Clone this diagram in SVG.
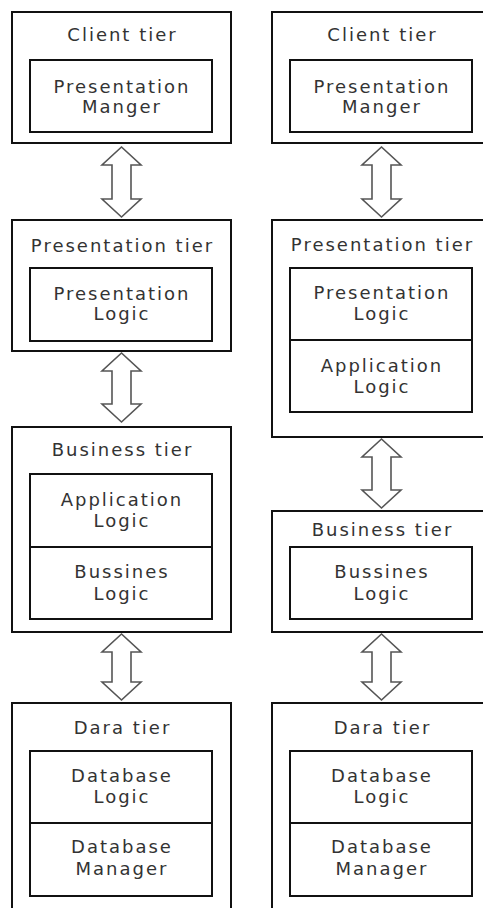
<svg xmlns="http://www.w3.org/2000/svg" width="483" height="908" viewBox="0 0 483 908">
  <style>
    .tier { fill: #fff; stroke: #111; stroke-width: 2; }
    .cell { fill: none; stroke: #111; stroke-width: 2; }
    .div { stroke: #111; stroke-width: 2; }
    .lbl { font-family: "DejaVu Sans", Verdana, sans-serif; font-size: 18px; letter-spacing: 2px; fill: #333; text-anchor: middle; }
    .arrow { fill: #fff; stroke: #555; stroke-width: 1.6; stroke-linejoin: miter; }
  </style>
  <rect width="483" height="908" fill="#fff"/>

  <!-- Left stack: four tiers -->
  <g id="left-client">
    <rect class="tier" x="12" y="12" width="219" height="131"/>
    <text class="lbl" x="122.5" y="41">Client tier</text>
    <rect class="cell" x="30" y="60" width="182" height="72"/>
    <text class="lbl" x="122" y="93">Presentation</text>
    <text class="lbl" x="122" y="113">Manger</text>
  </g>
  <g id="left-presentation">
    <rect class="tier" x="12" y="220" width="219" height="131"/>
    <text class="lbl" x="122.5" y="252">Presentation tier</text>
    <rect class="cell" x="30" y="268" width="182" height="73"/>
    <text class="lbl" x="122" y="300">Presentation</text>
    <text class="lbl" x="122" y="320">Logic</text>
  </g>
  <g id="left-business">
    <rect class="tier" x="12" y="427" width="219" height="205"/>
    <text class="lbl" x="122.5" y="456">Business tier</text>
    <rect class="cell" x="30" y="474" width="182" height="145"/>
    <line class="div" x1="30" y1="547" x2="212" y2="547"/>
    <text class="lbl" x="122" y="506">Application</text>
    <text class="lbl" x="122" y="527">Logic</text>
    <text class="lbl" x="122" y="578">Bussines</text>
    <text class="lbl" x="122" y="600">Logic</text>
  </g>
  <g id="left-data">
    <rect class="tier" x="12" y="703" width="219" height="230"/>
    <text class="lbl" x="122.5" y="734">Dara tier</text>
    <rect class="cell" x="30" y="751" width="182" height="145"/>
    <line class="div" x1="30" y1="823" x2="212" y2="823"/>
    <text class="lbl" x="122" y="782">Database</text>
    <text class="lbl" x="122" y="803">Logic</text>
    <text class="lbl" x="122" y="853">Database</text>
    <text class="lbl" x="122" y="875">Manager</text>
  </g>

  <!-- Right stack: presentation tier also hosts application logic -->
  <g id="right-client">
    <rect class="tier" x="272" y="12" width="219" height="131"/>
    <text class="lbl" x="382.5" y="41">Client tier</text>
    <rect class="cell" x="290" y="60" width="182" height="72"/>
    <text class="lbl" x="382" y="93">Presentation</text>
    <text class="lbl" x="382" y="113">Manger</text>
  </g>
  <g id="right-presentation">
    <rect class="tier" x="272" y="220" width="219" height="217"/>
    <text class="lbl" x="382.5" y="251">Presentation tier</text>
    <rect class="cell" x="290" y="268" width="182" height="144"/>
    <line class="div" x1="290" y1="340" x2="472" y2="340"/>
    <text class="lbl" x="382" y="299">Presentation</text>
    <text class="lbl" x="382" y="320">Logic</text>
    <text class="lbl" x="382" y="372">Application</text>
    <text class="lbl" x="382" y="393">Logic</text>
  </g>
  <g id="right-business">
    <rect class="tier" x="272" y="511" width="219" height="121"/>
    <text class="lbl" x="382.5" y="536">Business tier</text>
    <rect class="cell" x="290" y="547" width="182" height="72"/>
    <text class="lbl" x="382" y="578">Bussines</text>
    <text class="lbl" x="382" y="600">Logic</text>
  </g>
  <g id="right-data">
    <rect class="tier" x="272" y="703" width="219" height="230"/>
    <text class="lbl" x="382.5" y="734">Dara tier</text>
    <rect class="cell" x="290" y="751" width="182" height="145"/>
    <line class="div" x1="290" y1="823" x2="472" y2="823"/>
    <text class="lbl" x="382" y="782">Database</text>
    <text class="lbl" x="382" y="803">Logic</text>
    <text class="lbl" x="382" y="853">Database</text>
    <text class="lbl" x="382" y="875">Manager</text>
  </g>

  <!-- Hollow double-headed connectors between tiers -->
  <g id="connectors">
    <polygon class="arrow" points="121.5,147 141,165 131,165 131,199 141,199 121.5,217 102,199 112,199 112,165 102,165"/>
    <polygon class="arrow" points="121.5,353 141,371 131,371 131,404 141,404 121.5,422 102,404 112,404 112,371 102,371"/>
    <polygon class="arrow" points="121.5,634 141,652 131,652 131,682 141,682 121.5,700 102,682 112,682 112,652 102,652"/>
    <polygon class="arrow" points="381.5,147 401,165 391,165 391,199 401,199 381.5,217 362,199 372,199 372,165 362,165"/>
    <polygon class="arrow" points="381.5,439 401,457 391,457 391,490 401,490 381.5,508 362,490 372,490 372,457 362,457"/>
    <polygon class="arrow" points="381.5,634 401,652 391,652 391,682 401,682 381.5,700 362,682 372,682 372,652 362,652"/>
  </g>
</svg>
